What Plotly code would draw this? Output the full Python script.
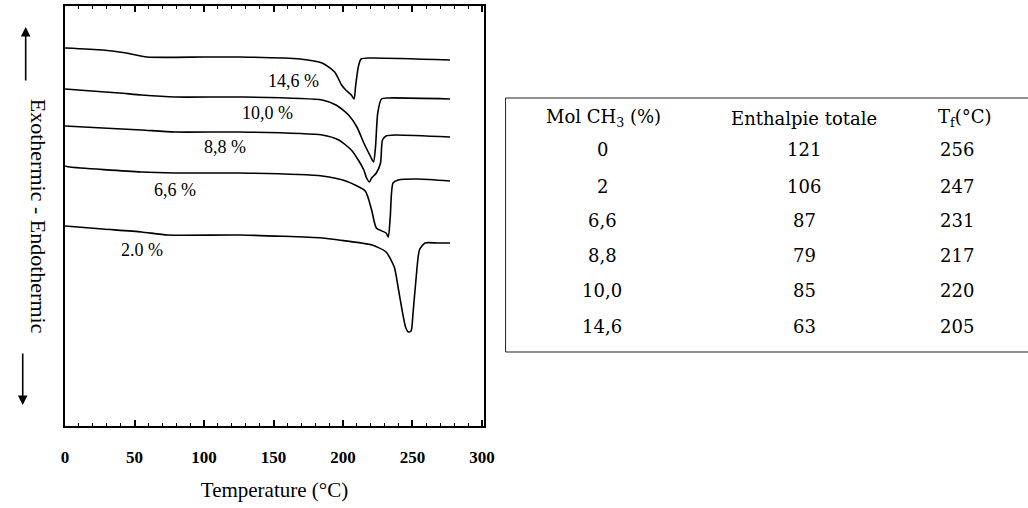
import plotly.graph_objects as go

# ---- DSC curves (temperature in °C, heat flow in arbitrary units, offset stacked) ----
T_146 = [0, 27, 44, 59, 100, 126, 169, 185, 194, 199, 202, 206, 208, 209, 211, 213, 220, 277]
H_146 = [378, 376, 373, 369, 369, 369, 367, 363, 354, 341, 336, 331, 327, 339, 359, 367, 368, 366]

T_100 = [0, 19, 39, 55, 79, 126, 185, 195, 204, 210, 215, 220, 222, 223.4, 225, 227.7, 233, 277]
H_100 = [337, 335, 333, 331, 329, 329, 326, 321, 311, 299, 283, 269, 264, 279, 313, 327, 328, 327]

T_88 = [0, 27, 55, 79, 126, 185, 197, 206, 211, 215, 217, 219, 220.6, 224, 227, 228.4, 231, 237.6, 277]
H_88 = [300, 298, 296, 294, 294, 291, 286, 276, 266, 256, 248, 244, 248, 253, 263, 286, 290, 291, 289]

T_66 = [0, 3.5, 55, 79, 126, 185, 202, 216, 220.6, 224, 231, 232.6, 234, 236, 239.7, 254, 277]
H_66 = [260, 259, 254, 253, 253, 250, 245, 235, 216, 198, 193, 189, 209, 243, 246, 247, 245]

T_20 = [0, 27, 55, 74, 126, 185, 197, 221, 231, 236.9, 240, 242.5, 245, 247, 249, 250.4, 252.5, 255, 259, 268, 277]
H_20 = [200, 197, 194, 191, 191, 188, 186, 181, 174, 159, 136, 116, 99, 94, 95, 113, 146, 176, 183, 183, 183]

curve_T = [T_146, T_100, T_88, T_66, T_20]
curve_H = [H_146, H_100, H_88, H_66, H_20]
curve_names = ["14,6 %", "10,0 %", "8,8 %", "6,6 %", "2.0 %"]
label_T = [164.5, 145.4, 114.9, 79.4, 55.3]
label_H = [345, 313, 279, 236, 176]

x_ticks = [0, 50, 100, 150, 200, 250, 300]

# ---- Table ----
tab_header = ["Mol CH<sub>3</sub> (%)", "Enthalpie totale", "T<sub>f</sub>(°C)"]
tab_mol = ["0", "2", "6,6", "8,8", "10,0", "14,6"]
tab_enth = ["121", "106", "87", "79", "85", "63"]
tab_tf = ["256", "247", "231", "217", "220", "205"]

W, H = 1028, 508
SERIF = "Liberation Serif"
TSERIF = "DejaVu Serif"

fig = go.Figure()
for tx, hy, nm in zip(curve_T, curve_H, curve_names):
    fig.add_trace(go.Scatter(x=tx, y=hy, mode="lines", name=nm,
                             line=dict(color="black", width=1.6, shape="spline", smoothing=0.6),
                             showlegend=False, hoverinfo="skip"))

# curve labels
for lt, lh, nm in zip(label_T, label_H, curve_names):
    fig.add_annotation(x=lt, y=lh, xref="x", yref="y", text=nm, showarrow=False,
                       font=dict(family=SERIF, size=18, color="black"))

def px(x):
    return x / W

def py(y):
    return 1 - y / H

# table text
col_x = [607, 812, 967]
head_x = [608, 812, 975]
row_y = [150, 186, 220, 255, 290, 326]
for hx, t in zip(head_x, tab_header):
    fig.add_annotation(x=px(hx), y=py(118), xref="paper", yref="paper", text=t, showarrow=False,
                       xanchor="center", yanchor="middle",
                       font=dict(family=TSERIF, size=18, color="black"))
for col, vals in zip(col_x, [tab_mol, tab_enth, tab_tf]):
    for ry, v in zip(row_y, vals):
        fig.add_annotation(x=px(col), y=py(ry), xref="paper", yref="paper", text=v, showarrow=False,
                           xanchor="center", yanchor="middle",
                           font=dict(family=TSERIF, size=18, color="black"))

fig.add_shape(type="rect", xref="paper", yref="paper", x0=px(509), x1=px(1040), y0=py(352), y1=py(98),
              line=dict(color="#222", width=1))

# y-axis label and arrows
fig.add_annotation(x=px(21), y=py(216), xref="paper", yref="paper", text="Exothermic - Endothermic",
                   showarrow=False, textangle=90, font=dict(family=SERIF, size=22, color="black"))
fig.add_annotation(x=px(22), y=py(27), xref="paper", yref="paper",
                   axref="pixel", ayref="pixel", ax=0, ay=55, text="", showarrow=True, arrowhead=2,
                   arrowsize=1.2, arrowwidth=1.6, arrowcolor="black")
fig.add_annotation(x=px(19), y=py(405), xref="paper", yref="paper",
                   axref="pixel", ayref="pixel", ax=0, ay=-53, text="", showarrow=True, arrowhead=2,
                   arrowsize=1.2, arrowwidth=1.6, arrowcolor="black")

fig.update_layout(
    width=W, height=H,
    margin=dict(l=0, r=0, t=0, b=0),
    paper_bgcolor="white", plot_bgcolor="white",
    xaxis=dict(domain=[px(62), px(487)], range=[0, 301.4],
               tickvals=x_ticks, ticktext=[str(v) for v in x_ticks],
               ticks="inside", ticklen=6, tickwidth=1.5, tickcolor="black",
               minor=dict(dtick=10, ticks="inside", ticklen=3, tickwidth=1.2, tickcolor="black"),
               showline=True, linecolor="black", linewidth=2, mirror="ticks",
               showgrid=False, zeroline=False, ticklabelstandoff=15,
               tickfont=dict(family=SERIF, size=17, color="black", weight="bold"),
               title=dict(text="Temperature (°C)", font=dict(family=SERIF, size=21, color="black"),
                          standoff=16)),
    yaxis=dict(domain=[py(426), py(6)], range=[0, 420],
               showline=True, linecolor="black", linewidth=2, mirror=True,
               ticks="", showticklabels=False, showgrid=False, zeroline=False),
)

fig.write_html("out.html", config={"displayModeBar": False},
               post_script="document.body.style.margin='0';document.body.style.padding='0';")
